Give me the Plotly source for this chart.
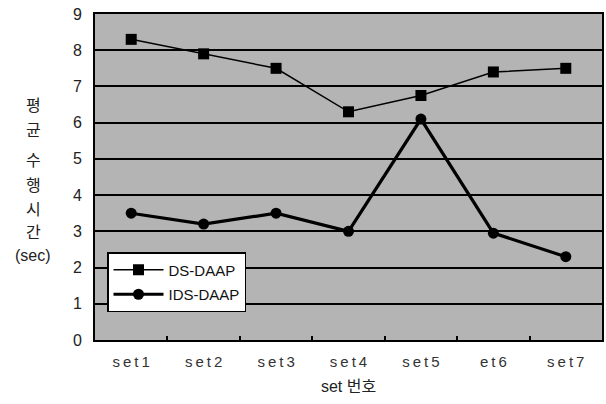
import plotly.graph_objects as go

categories = ["set1", "set2", "set3", "set4", "set5", "et6", "set7"]
ds_daap = [8.3, 7.9, 7.5, 6.3, 6.75, 7.4, 7.5]
ids_daap = [3.5, 3.2, 3.5, 3.0, 6.1, 2.95, 2.3]
y_ticks = list(range(0, 10))
y_title_chars = ["평", "균", "수", "행", "시", "간", "(sec)"]
y_title_pix = [105, 130, 161, 185, 209, 232, 256]

FONT = "Liberation Sans, Arial, Noto Sans CJK KR"
THIN = "\u2009"
tick_text = [THIN.join(list(c)) for c in categories]

W, H = 606, 404
PLOT_TOP, PLOT_BOTTOM, PLOT_LEFT, PLOT_RIGHT = 14, 340, 95, 602
ph = PLOT_BOTTOM - PLOT_TOP
pw = PLOT_RIGHT - PLOT_LEFT

fig = go.Figure()
fig.add_trace(go.Scatter(
    x=categories, y=ds_daap, name="DS-DAAP", mode="lines+markers",
    legendgroup="a",
    line=dict(color="black", width=1.5),
    marker=dict(symbol="square", size=11, color="black"),
))
fig.add_trace(go.Scatter(
    x=categories, y=ids_daap, name="IDS-DAAP", mode="lines+markers",
    legendgroup="b",
    line=dict(color="black", width=3.2),
    marker=dict(symbol="circle", size=11, color="black"),
))

fig.update_layout(
    width=W, height=H,
    margin=dict(l=PLOT_LEFT, r=W - PLOT_RIGHT, t=PLOT_TOP, b=H - PLOT_BOTTOM, autoexpand=False),
    paper_bgcolor="white",
    plot_bgcolor="#b4b4b4",
    font=dict(family=FONT, color="#222", size=14),
    showlegend=True,
    legend=dict(
        x=(107 - PLOT_LEFT) / pw, y=(PLOT_BOTTOM - 252) / ph, xanchor="left", yanchor="top",
        bgcolor="white", bordercolor="black", borderwidth=1.5,
        font=dict(size=15, color="#111"),
        itemwidth=50, tracegroupgap=2,
    ),
    xaxis=dict(
        type="category", showgrid=False, ticks="inside", tickson="boundaries",
        ticklen=4, tickcolor="black", tickwidth=1.5,
        tickvals=categories, ticktext=tick_text,
        showline=True, linecolor="black", linewidth=2, mirror=True,
        tickfont=dict(size=15, color="#333"), ticklabelstandoff=7,
        title=dict(text="set 번호", font=dict(size=16, color="#222"), standoff=12),
        range=[-0.5, 6.5], automargin=False,
    ),
    yaxis=dict(
        range=[0, 9], tickvals=y_ticks, showgrid=True, gridcolor="black", gridwidth=1.5,
        showline=True, linecolor="black", linewidth=2, mirror=True,
        ticks="", tickfont=dict(size=16, color="#222"), ticklabelstandoff=8,
        zeroline=False, automargin=False, ticklabeloverflow="allow",
    ),
)

for ch, yp in zip(y_title_chars, y_title_pix):
    fig.add_annotation(
        text=ch, xref="paper", yref="paper",
        x=(33 - PLOT_LEFT) / pw, y=(PLOT_BOTTOM - yp) / ph,
        xanchor="center", yanchor="middle", showarrow=False,
        font=dict(size=16, color="#222", family=FONT),
    )

# remove the default 8px page margin so the figure sits at the window's top-left corner
fig.write_html("out.html", config={"displayModeBar": False},
               post_script="document.body.style.margin='0px';")
